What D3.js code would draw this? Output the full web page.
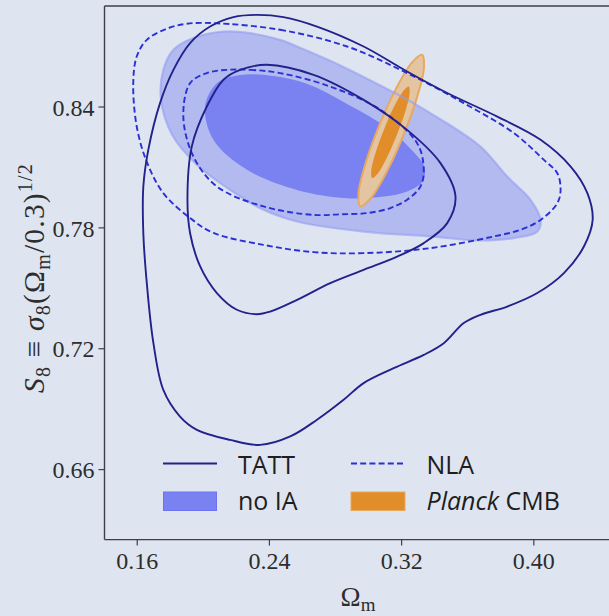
<!DOCTYPE html>
<html>
<head>
<meta charset="utf-8">
<script src="https://cdn.jsdelivr.net/npm/d3@7"></script>
<style>
  html, body { margin: 0; padding: 0; background: #dfe5f0; }
  svg { display: block; }
</style>
</head>
<body>
<svg id="chart" width="609" height="616"></svg>
<script>
// Axis ticks
const xTicks = [0.16, 0.24, 0.32, 0.40];
const yTicks = [0.66, 0.72, 0.78, 0.84];

// Contours as [Omega_m, S8] points
const tattOuter = [
  [0.2327,0.8855],[0.2488,0.8844],[0.2691,0.8797],[0.2973,0.8698],[0.3236,0.8574],
  [0.3479,0.8467],[0.3782,0.8350],[0.4044,0.8235],[0.4226,0.8102],[0.4327,0.7970],
  [0.4359,0.7837],[0.4306,0.7705],[0.4185,0.7573],[0.4024,0.7474],[0.3842,0.7407],
  [0.3680,0.7366],[0.3579,0.7325],[0.3458,0.7225],[0.3337,0.7167],[0.3155,0.7101],
  [0.2973,0.7027],[0.2852,0.6944],[0.2691,0.6845],[0.2529,0.6762],[0.2347,0.6720],
  [0.2165,0.6745],[0.1964,0.6795],[0.1862,0.6861],[0.1761,0.6993],[0.1701,0.7225],
  [0.1661,0.7523],[0.1640,0.7771],[0.1640,0.8003],[0.1670,0.8185],[0.1741,0.8417],
  [0.1822,0.8582],[0.1923,0.8715],[0.2044,0.8797],[0.2185,0.8844]
];
const tattInner = [
  [0.2388,0.8607],[0.2670,0.8557],[0.2973,0.8433],[0.3236,0.8284],[0.3438,0.8119],
  [0.3529,0.7953],[0.3479,0.7821],[0.3337,0.7722],[0.3176,0.7655],[0.2973,0.7589],
  [0.2771,0.7523],[0.2570,0.7440],[0.2408,0.7382],[0.2327,0.7369],[0.2206,0.7391],
  [0.2085,0.7474],[0.1984,0.7606],[0.1923,0.7771],[0.1907,0.7937],[0.1933,0.8201],
  [0.2024,0.8400],[0.2125,0.8533],[0.2226,0.8582]
];
const nlaOuter = [
  [0.2064,0.8814],[0.2468,0.8781],[0.2873,0.8698],[0.3236,0.8566],[0.3579,0.8417],
  [0.3882,0.8268],[0.4064,0.8135],[0.4145,0.8069],[0.4165,0.7986],[0.4145,0.7920],
  [0.4044,0.7837],[0.3923,0.7788],[0.3761,0.7755],[0.3377,0.7697],[0.2973,0.7672],
  [0.2670,0.7677],[0.2367,0.7713],[0.2064,0.7773],[0.1923,0.7846],[0.1761,0.7970],
  [0.1661,0.8125],[0.1600,0.8301],[0.1579,0.8516],[0.1600,0.8648],[0.1661,0.8731],
  [0.1782,0.8786],[0.1903,0.8811]
];
const nlaInner = [
  [0.2145,0.8582],[0.2287,0.8582],[0.2468,0.8566],[0.2771,0.8499],[0.3074,0.8384],
  [0.3297,0.8218],[0.3337,0.8086],[0.3317,0.8003],[0.3236,0.7937],[0.3135,0.7896],
  [0.2994,0.7871],[0.2832,0.7865],[0.2670,0.7862],[0.2367,0.7904],[0.2085,0.8003],
  [0.1943,0.8152],[0.1882,0.8350],[0.1923,0.8516],[0.2024,0.8566]
];
const noIaOuter = [
  [0.1943,0.8740],[0.2125,0.8772],[0.2287,0.8764],[0.2468,0.8731],[0.2570,0.8698],
  [0.2771,0.8627],[0.2973,0.8547],[0.3176,0.8461],[0.3377,0.8367],[0.3680,0.8201],
  [0.3842,0.8052],[0.3983,0.7937],[0.4044,0.7837],[0.4024,0.7779],[0.3882,0.7747],
  [0.3680,0.7735],[0.3377,0.7755],[0.2973,0.7779],[0.2570,0.7829],[0.2367,0.7887],
  [0.2165,0.7986],[0.1964,0.8111],[0.1814,0.8260],[0.1747,0.8433],[0.1761,0.8582],
  [0.1822,0.8682]
];
const noIaInner = [
  [0.2226,0.8557],[0.2428,0.8552],[0.2630,0.8513],[0.2873,0.8413],[0.3135,0.8284],
  [0.3274,0.8175],[0.3341,0.8101],[0.3329,0.8026],[0.3236,0.7978],[0.3094,0.7953],
  [0.2873,0.7945],[0.2570,0.7986],[0.2267,0.8086],[0.2064,0.8235],[0.2014,0.8400],
  [0.2085,0.8516]
];
const planckOuter = [
  [0.3327,0.8657],[0.3338,0.8594],[0.3297,0.8448],[0.3213,0.8256],[0.3110,0.8071],
  [0.3014,0.7942],[0.2953,0.7904],[0.2942,0.7967],[0.2983,0.8113],[0.3067,0.8305],
  [0.3170,0.8490],[0.3265,0.8618]
];
const planckInner = [
  [0.3246,0.8499],[0.3251,0.8463],[0.3225,0.8374],[0.3174,0.8259],[0.3114,0.8147],
  [0.3059,0.8068],[0.3024,0.8045],[0.3019,0.8081],[0.3045,0.8169],[0.3096,0.8285],
  [0.3156,0.8397],[0.3211,0.8475]
];

const xLim = [0.1405, 0.447];
const yLim = [0.625, 0.8899];

const C = {
  spine: "#3c3f48",
  text: "#2d2d2d",
  tatt: "#22228c",
  nla: "#2b30d6",
  noIaOuter: "#b3baef",
  noIaOuterEdge: "#939cf3",
  noIaInner: "#7a82f1",
  planckOuter: "#e4c5a2",
  planckEdge: "#e8a95e",
  planckInner: "#e08d2a"
};

const svg = d3.select("#chart");
const plotLeft = 104.5, plotTop = 6, plotW = 506.5, plotH = 533.6;

const x = d3.scaleLinear().domain(xLim).range([plotLeft, plotLeft + plotW]);
const y = d3.scaleLinear().domain(yLim).range([plotTop + plotH, plotTop]);

svg.append("defs").append("clipPath").attr("id", "plotClip")
  .append("rect").attr("x", plotLeft).attr("y", plotTop).attr("width", plotW).attr("height", plotH);

const plot = svg.append("g").attr("clip-path", "url(#plotClip)");

const shape = d3.line()
  .x(d => x(d[0])).y(d => y(d[1]))
  .curve(d3.curveCatmullRomClosed.alpha(0.5));

// no IA filled regions
plot.append("path").attr("d", shape(noIaOuter)).attr("fill", C.noIaOuter);
plot.append("path").attr("d", shape(noIaInner)).attr("fill", C.noIaInner);

// Planck CMB ellipses
plot.append("path").attr("d", shape(planckOuter))
  .attr("fill", C.planckOuter).attr("stroke", C.planckEdge).attr("stroke-width", 2);
plot.append("path").attr("d", shape(planckInner)).attr("fill", C.planckInner);

// soft edge of the no IA outer region, drawn over the ellipses
plot.append("path").attr("d", shape(noIaOuter)).attr("fill", "none")
  .attr("stroke", C.noIaOuterEdge).attr("stroke-width", 2.2).attr("stroke-opacity", 0.6);

// NLA dashed contours
[nlaOuter, nlaInner].forEach(c => {
  plot.append("path").attr("d", shape(c)).attr("fill", "none")
    .attr("stroke", C.nla).attr("stroke-width", 1.9).attr("stroke-dasharray", "6,3.2");
});

// TATT solid contours
[tattOuter, tattInner].forEach(c => {
  plot.append("path").attr("d", shape(c)).attr("fill", "none")
    .attr("stroke", C.tatt).attr("stroke-width", 1.9);
});

// Spines
const spines = svg.append("g").attr("stroke", C.spine).attr("stroke-width", 1.4).attr("fill", "none");
spines.append("line").attr("x1", plotLeft).attr("x2", plotLeft).attr("y1", plotTop).attr("y2", plotTop + plotH);
spines.append("line").attr("x1", plotLeft).attr("x2", plotLeft + plotW).attr("y1", plotTop).attr("y2", plotTop);
spines.append("line").attr("x1", plotLeft).attr("x2", plotLeft + plotW).attr("y1", plotTop + plotH).attr("y2", plotTop + plotH);

// Axes
const serif = "'Liberation Serif', 'Times New Roman', serif";
const fmt = d3.format(".2f");
const xAxis = svg.append("g").attr("transform", `translate(0,${plotTop + plotH})`)
  .call(d3.axisBottom(x).tickValues(xTicks).tickFormat(fmt).tickSizeOuter(0).tickSize(6).tickPadding(6));
const yAxis = svg.append("g").attr("transform", `translate(${plotLeft},0)`)
  .call(d3.axisLeft(y).tickValues(yTicks).tickFormat(fmt).tickSizeOuter(0).tickSize(6).tickPadding(4));

[xAxis, yAxis].forEach(a => {
  a.select(".domain").remove();
  a.selectAll(".tick line").attr("stroke", C.spine).attr("stroke-width", 1.2);
  a.selectAll(".tick text")
    .attr("font-family", serif).attr("font-size", 24).attr("fill", C.text);
});
xAxis.selectAll(".tick text").attr("dy", "0.71em");
yAxis.selectAll(".tick text").attr("dy", "0.36em");

// Axis titles
const xl = svg.append("text")
  .attr("x", 358).attr("y", 606).attr("text-anchor", "middle")
  .attr("font-family", serif).attr("font-size", 27).attr("fill", C.text);
xl.append("tspan").text("Ω");
xl.append("tspan").attr("font-size", 19).attr("dy", 5).text("m");

const yl = svg.append("text")
  .attr("transform", "translate(44,278) rotate(-90)")
  .attr("text-anchor", "middle")
  .attr("font-family", serif).attr("font-size", 29.5).attr("letter-spacing", 1.2)
  .attr("fill", C.text);
yl.append("tspan").attr("font-style", "italic").text("S");
yl.append("tspan").attr("font-size", 20).attr("dy", 6).text("8");
yl.append("tspan").attr("dy", -6).text(" ≡ ");
yl.append("tspan").attr("font-style", "italic").text("σ");
yl.append("tspan").attr("font-size", 20).attr("dy", 6).text("8");
yl.append("tspan").attr("dy", -6).text("(Ω");
yl.append("tspan").attr("font-size", 20).attr("dy", 6).text("m");
yl.append("tspan").attr("dy", -6).text("/0.3)");
yl.append("tspan").attr("font-size", 20).attr("dy", -12).text("1/2");

// Legend
const sans = "'Open Sans', 'Noto Sans', sans-serif";
const lg = svg.append("g");
lg.append("line").attr("x1", 163).attr("x2", 217).attr("y1", 463.5).attr("y2", 463.5)
  .attr("stroke", C.tatt).attr("stroke-width", 1.9);
lg.append("line").attr("x1", 351).attr("x2", 405).attr("y1", 463.5).attr("y2", 463.5)
  .attr("stroke", C.nla).attr("stroke-width", 1.9).attr("stroke-dasharray", "6,3.2");
lg.append("rect").attr("x", 163.5).attr("y", 492).attr("width", 53).attr("height", 18.5)
  .attr("fill", C.noIaInner).attr("stroke", "#6b74f4").attr("stroke-width", 1);
lg.append("rect").attr("x", 351).attr("y", 492).attr("width", 54).attr("height", 18.5)
  .attr("fill", C.planckInner).attr("stroke", C.planckEdge).attr("stroke-width", 1);

const lt = (tx, ty) => lg.append("text").attr("x", tx).attr("y", ty)
  .attr("font-family", sans).attr("font-size", 25).attr("fill", "#1e1e1e");
lt(238, 474).text("TATT");
lt(426.5, 474).text("NLA");
lt(238, 510).text("no IA");
const pl = lt(426.5, 510);
pl.append("tspan").attr("font-style", "italic").text("Planck");
pl.append("tspan").text(" CMB");
</script>
</body>
</html>
